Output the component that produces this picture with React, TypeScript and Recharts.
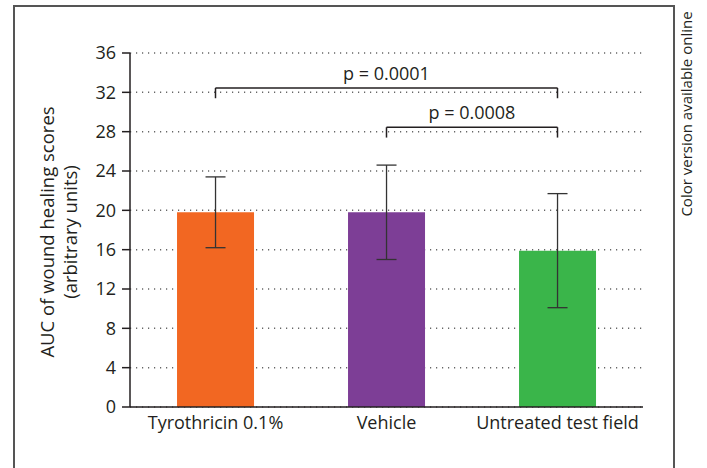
import {
  Bar,
  BarChart,
  CartesianGrid,
  Cell,
  ErrorBar,
  ReferenceLine,
  XAxis,
  YAxis,
} from "recharts";

const groups = ["Tyrothricin 0.1%", "Vehicle", "Untreated test field"];
const means = [19.8, 19.8, 15.9];
const errors = [3.6, 4.8, 5.8];
const barColors = ["#f26722", "#7d3e96", "#3ab54a"];
const yTicks = [0, 4, 8, 12, 16, 20, 24, 28, 32, 36];

const bracketFrom = ["Tyrothricin 0.1%", "Vehicle"];
const bracketTo = ["Untreated test field", "Untreated test field"];
const bracketLevel = [32.45, 28.45];
const bracketDrop = [31.4, 27.4];
const bracketText = ["p = 0.0001", "p = 0.0008"];

const data = groups.map((g, i) => ({ group: g, auc: means[i], err: errors[i] }));

const FONT = "'Open Sans', sans-serif";
const TEXT = "#231f20";

export default function App() {
  return (
    <div
      style={{
        position: "absolute",
        left: 0,
        top: 0,
        width: 707,
        height: 468,
        background: "#fff",
        overflow: "hidden",
        fontFamily: FONT,
        color: TEXT,
      }}
    >
      {/* frame */}
      <div
        style={{
          position: "absolute",
          left: 13,
          top: 5,
          width: 662,
          height: 480,
          border: "2px solid #555",
          boxSizing: "border-box",
        }}
      />

      {/* side note */}
      <div
        style={{
          position: "absolute",
          left: 686,
          top: 114,
          transform: "translate(-50%, -50%) rotate(-90deg)",
          whiteSpace: "nowrap",
          fontSize: 15,
        }}
      >
        Color version available online
      </div>

      {/* y axis title */}
      <div
        style={{
          position: "absolute",
          left: 58,
          top: 232,
          transform: "translate(-50%, -50%) rotate(-90deg)",
          whiteSpace: "nowrap",
          fontSize: 18.5,
          lineHeight: "23px",
          textAlign: "center",
        }}
      >
        AUC of wound healing scores
        <br />
        (arbitrary units)
      </div>

      <div style={{ position: "absolute", left: 0, top: 0 }}>
        <BarChart
          width={707}
          height={468}
          data={data}
          margin={{ top: 53, right: 64, bottom: 31, left: 70 }}
          barCategoryGap="27.5%"
        >
          <CartesianGrid
            horizontal
            vertical={false}
            stroke="#666"
            strokeWidth={1.5}
            strokeDasharray="1.2 4.8"
          />
          <XAxis
            dataKey="group"
            tickLine={false}
            tickSize={0}
            tickMargin={9}
            height={30}
            axisLine={{ stroke: TEXT, strokeWidth: 1.5 }}
            tick={{ fill: TEXT, fontSize: 18, fontFamily: FONT }}
            interval={0}
          />
          <YAxis
            domain={[0, 36]}
            ticks={yTicks}
            width={60}
            tickSize={8}
            tickMargin={6}
            axisLine={{ stroke: TEXT, strokeWidth: 1.5 }}
            tickLine={{ stroke: TEXT, strokeWidth: 1.5 }}
            tick={{ fill: TEXT, fontSize: 18, fontFamily: FONT }}
          />
          <Bar dataKey="auc" isAnimationActive={false}>
            {data.map((d, i) => (
              <Cell key={d.group} fill={barColors[i]} />
            ))}
            <ErrorBar
              dataKey="err"
              width={10}
              stroke="#333"
              strokeWidth={1.3}
              direction="y"
            />
          </Bar>

          {bracketText.map((t, i) => (
            <ReferenceLine
              key={"h" + i}
              segment={[
                { x: bracketFrom[i], y: bracketLevel[i] },
                { x: bracketTo[i], y: bracketLevel[i] },
              ]}
              stroke={TEXT}
              strokeWidth={1.5}
              label={{
                value: t,
                position: "top",
                offset: 8,
                fill: TEXT,
                fontSize: 18,
                fontFamily: FONT,
              }}
            />
          ))}
          {bracketText.map((t, i) => (
            <ReferenceLine
              key={"l" + i}
              segment={[
                { x: bracketFrom[i], y: bracketLevel[i] },
                { x: bracketFrom[i], y: bracketDrop[i] },
              ]}
              stroke={TEXT}
              strokeWidth={1.5}
            />
          ))}
          {bracketText.map((t, i) => (
            <ReferenceLine
              key={"r" + i}
              segment={[
                { x: bracketTo[i], y: bracketLevel[i] },
                { x: bracketTo[i], y: bracketDrop[i] },
              ]}
              stroke={TEXT}
              strokeWidth={1.5}
            />
          ))}
        </BarChart>
      </div>
    </div>
  );
}
